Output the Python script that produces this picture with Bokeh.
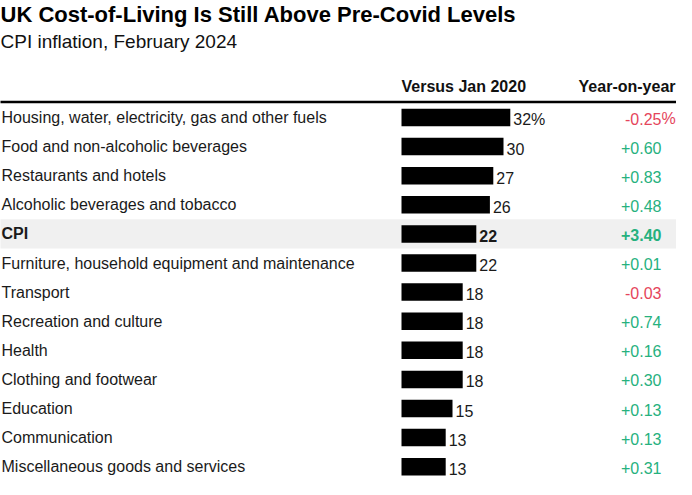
from bokeh.plotting import figure
from bokeh.models import Range1d, ColumnDataSource
from bokeh.core.properties import value
from bokeh.embed import file_html
from bokeh.resources import INLINE

categories = [
    "Housing, water, electricity, gas and other fuels",
    "Food and non-alcoholic beverages",
    "Restaurants and hotels",
    "Alcoholic beverages and tobacco",
    "CPI",
    "Furniture, household equipment and maintenance",
    "Transport",
    "Recreation and culture",
    "Health",
    "Clothing and footwear",
    "Education",
    "Communication",
    "Miscellaneous goods and services",
]
vs_jan2020 = [32, 30, 27, 26, 22, 22, 18, 18, 18, 18, 15, 13, 13]
yoy = [-0.25, 0.60, 0.83, 0.48, 3.40, 0.01, -0.03, 0.74, 0.16, 0.30, 0.13, 0.13, 0.31]

title = "UK Cost-of-Living Is Still Above Pre-Covid Levels"
subtitle = "CPI inflation, February 2024"
col1 = "Versus Jan 2020"
col2 = "Year-on-year"

W, H = 676, 479
BAR0 = 401.0      # pixel where bars start
PPU = 3.4         # pixels per unit
ROW0 = 117.0      # pixel of first row centre
ROWH = 29.1

def px(x):
    return (x - BAR0) / PPU

def py(y):
    return (y - ROW0) / ROWH

FONT = value("Liberation Sans")
RED = "#e5455b"
GREEN = "#26b17e"
FS = "16px"

p = figure(width=W, height=H, output_backend="svg", toolbar_location=None,
           x_range=Range1d(px(0), px(W)), y_range=Range1d(py(H), py(0)),
           min_border=0)
p.axis.visible = False
p.grid.visible = False
p.outline_line_color = None

n = len(categories)
rows = list(range(n))
bold = ["bold" if c == "CPI" else "normal" for c in categories]

# CPI highlight band
ci = categories.index("CPI")
p.quad(left=[px(-2)], right=[px(678)], bottom=[ci - 0.5], top=[ci + 0.5],
       fill_color="#f0f0f0", line_color=None)

# header rule
p.segment(x0=[px(-1)], x1=[px(678)], y0=[py(101.5)], y1=[py(101.5)],
          line_color="black", line_width=2.5)

src = ColumnDataSource(dict(
    y=rows, cat=categories, v=vs_jan2020,
    vlab=[(f"{v}%" if i == 0 else f"{v}") for i, v in enumerate(vs_jan2020)],
    ylab=[(f"{y:+.2f}") for y in yoy],
    ycol=[RED if y < 0 else GREEN for y in yoy],
    fw=bold,
))

p.hbar(y="y", left=0, right="v", height=0.6, fill_color="black",
       line_color=None, source=src)

p.text(x=px(1), y="y", text="cat", source=src, text_font=FONT,
       text_font_size=FS, text_font_style="fw", text_color="#1a1a1a",
       text_baseline="middle", text_align="left")

p.text(x="v", y="y", text="vlab", source=src, x_offset=3, y_offset=2,
       text_font=FONT, text_font_size=FS, text_font_style="fw",
       text_color="#1a1a1a", text_baseline="middle", text_align="left")

p.text(x=px(661), y="y", text="ylab", source=src, y_offset=1,
       text_font=FONT, text_font_size=FS, text_font_style="fw",
       text_color="ycol", text_baseline="middle", text_align="right")
p.text(x=[px(661)], y=[0], text=["%"], y_offset=1,
       text_font=FONT, text_font_size=FS,
       text_color=RED if yoy[0] < 0 else GREEN,
       text_baseline="middle", text_align="left")

# headers
p.text(x=[px(401)], y=[py(86)], text=[col1], text_font=FONT,
       text_font_size=FS, text_font_style="bold", text_color="#111111",
       text_baseline="middle", text_align="left")
p.text(x=[px(675)], y=[py(86)], text=[col2], text_font=FONT,
       text_font_size=FS, text_font_style="bold", text_color="#111111",
       text_baseline="middle", text_align="right")

# title and subtitle
p.text(x=[px(0)], y=[py(14)], text=[title], text_font=FONT,
       text_font_size="22px", text_font_style="bold", text_color="#000000",
       text_baseline="middle", text_align="left")
p.text(x=[px(0)], y=[py(41)], text=[subtitle], text_font=FONT,
       text_font_size="19px", text_color="#111111",
       text_baseline="middle", text_align="left")

open("out.html", "w").write(file_html(p, INLINE))
